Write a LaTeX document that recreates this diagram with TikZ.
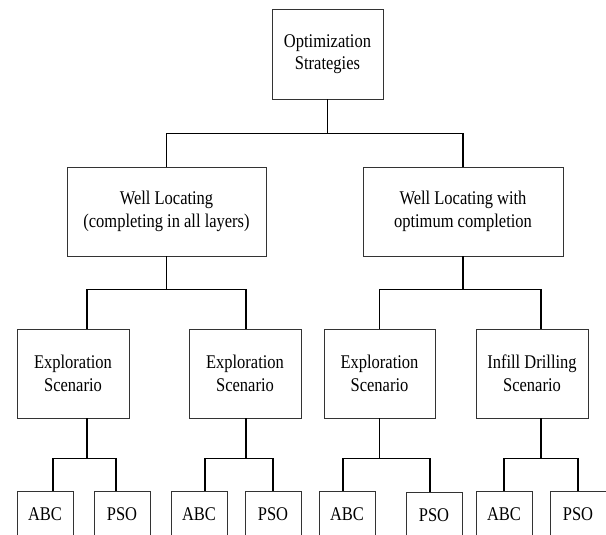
\documentclass[tikz,border=0pt]{standalone}
\usepackage{fontspec}
\setmainfont{Liberation Serif}[FakeStretch=0.85]
\usetikzlibrary{calc}
\tikzset{
    box/.style={draw=black!80, line width=0.9pt, align=center, inner sep=0pt, font=\fontsize{19.4}{22.5}\selectfont},
    link/.style={line width=1.8pt, black}
}

\begin{document}
\begin{tikzpicture}[x=1pt, y=-1pt]
    \path[use as bounding box, clip] (0, 0) rectangle (606, 535);

    \node[box, minimum width=111pt, minimum height=90pt] (top) at (327.5, 54) {Optimization\\Strategies};

    \node[box, minimum width=199pt, minimum height=89pt] (wl1) at (166.5, 211.5) {Well Locating\\(completing in all layers)};
    \node[box, minimum width=200pt, minimum height=89pt] (wl2) at (463, 211.5) {Well Locating with\\optimum completion};

    \node[box, minimum width=112pt, minimum height=89pt] (ex1) at (73, 373.5) {Exploration\\Scenario};
    \node[box, minimum width=112pt, minimum height=89pt] (ex2) at (245, 373.5) {Exploration\\Scenario};
    \node[box, minimum width=111pt, minimum height=89pt] (ex3) at (379.5, 373.5) {Exploration\\Scenario};
    \node[box, minimum width=112pt, minimum height=89pt] (inf) at (532, 373.5) {Infill Drilling\\Scenario};

    \node[box, minimum width=56pt, minimum height=46pt] (abc1) at (45, 514) {ABC};
    \node[box, minimum width=56pt, minimum height=46pt] (pso1) at (122, 514) {PSO};
    \node[box, minimum width=56pt, minimum height=46pt] (abc2) at (199, 514) {ABC};
    \node[box, minimum width=56pt, minimum height=46pt] (pso2) at (273, 514) {PSO};
    \node[box, minimum width=56pt, minimum height=46pt] (abc3) at (347, 514) {ABC};
    \node[box, minimum width=56pt, minimum height=46pt] (pso3) at (434, 515) {PSO};
    \node[box, minimum width=56pt, minimum height=46pt] (abc4) at (504, 514) {ABC};
    \node[box, minimum width=56pt, minimum height=46pt] (pso4) at (578, 514) {PSO};

    % strategies -> well locating
    \draw[link] (top.south) -- ++(0, 34) -| (wl1.north);
    \draw[link] (top.south) -- ++(0, 34) -| (wl2.north);

    % well locating -> scenarios
    \draw[link] (wl1.south) -- ++(0, 33) -| ([xshift=14pt]ex1.north);
    \draw[link] (wl1.south) -- ++(0, 33) -| ([xshift=1pt]ex2.north);
    \draw[link] (wl2.south) -- ++(0, 33) -| (ex3.north);
    \draw[link] (wl2.south) -- ++(0, 33) -| ([xshift=9pt]inf.north);

    % scenarios -> algorithms
    \draw[link] ([xshift=14pt]ex1.south) -- ++(0, 40) -| ([xshift=8pt]abc1.north);
    \draw[link] ([xshift=14pt]ex1.south) -- ++(0, 40) -| ([xshift=-6pt]pso1.north);
    \draw[link] ([xshift=1pt]ex2.south) -- ++(0, 40) -| ([xshift=6pt]abc2.north);
    \draw[link] ([xshift=1pt]ex2.south) -- ++(0, 40) -| (pso2.north);
    \draw[link] (ex3.south) -- ++(0, 40) -| ([xshift=-4pt]abc3.north);
    \draw[link] (ex3.south) -- ++(0, 40) -| ([xshift=-4pt]pso3.north);
    \draw[link] ([xshift=9pt]inf.south) -- ++(0, 40) -| (abc4.north);
    \draw[link] ([xshift=9pt]inf.south) -- ++(0, 40) -| (pso4.north);
\end{tikzpicture}
\end{document}
